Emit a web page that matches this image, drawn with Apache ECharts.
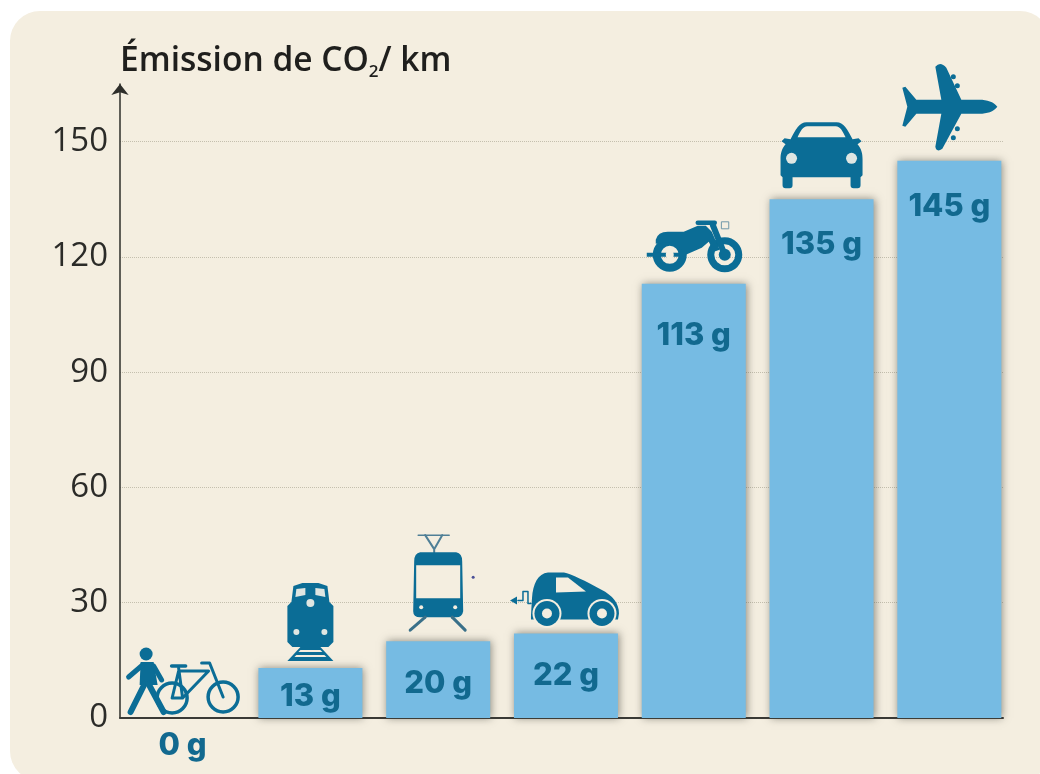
<!DOCTYPE html>
<html>
<head>
<meta charset="utf-8">
<title>Émission de CO2 / km</title>
<script src="https://cdn.jsdelivr.net/npm/echarts@6/dist/echarts.min.js"></script>
<style>
html, body { margin: 0; padding: 0; background: #fff; }
#chart { width: 1040px; height: 774px; }
</style>
</head>
<body>
<div id="chart"></div>
<script>
// modes de transport, de gauche a droite
var modes = ['velo', 'train', 'tram', 'voitureElec', 'moto', 'voiture', 'avion'];
var emissions = [0, 13, 20, 22, 113, 135, 145];
var yTicks = [0, 30, 60, 90, 120, 150];

var BLEU = '#0b6d96';
var FOND = '#f4eee0';
var BARRE = '#76bbe3';

// petits raccourcis pour les pictos (coordonnees relatives au haut de la barre)
function plein(d, c) { return { type: 'path', shape: { pathData: d }, style: { fill: c || BLEU } }; }
function trait(d, w, c) { return { type: 'path', shape: { pathData: d }, style: { fill: 'none', stroke: c || BLEU, lineWidth: w, lineCap: 'round', lineJoin: 'round' } }; }
function rond(x, y, r, c) { return { type: 'circle', shape: { cx: x, cy: y, r: r }, style: { fill: c || BLEU } }; }
function anneau(x, y, r, w) { return { type: 'circle', shape: { cx: x, cy: y, r: r }, style: { fill: 'none', stroke: BLEU, lineWidth: w } }; }

var pictos = {
	velo: [
		rond(-36.5, -64, 6.5),
		plein('M-42 -56 L-29 -56 L-25 -33 L-43 -33 Z'),
		trait('M-40 -53 L-54 -41', 5),
		trait('M-29 -52 L-21 -38', 5),
		trait('M-38 -34 L-52 -6', 6),
		trait('M-34 -34 L-19 -6', 6),
		anneau(-10.5, -20, 15, 3.5),
		anneau(40.5, -21, 15, 3.5),
		trait('M-4 -50 L0 -20 L26 -47 L-4 -47 L-10.5 -20 L0 -20', 3),
		trait('M19 -55 L27 -55 L40.5 -21', 3),
		trait('M-11 -52 L3 -52', 3.5)
	],
	train: [
		plein('M-17 -82 L-8 -85 L8 -85 L17 -82 L19 -66 L23 -62 L23 -26 L18 -21 L-18 -21 L-23 -26 L-23 -62 L-19 -66 Z'),
		plein('M-14 -79 L-5 -80 L-5 -73 L-15 -71 Z', '#dfe6e2'),
		plein('M14 -79 L5 -80 L5 -73 L15 -71 Z', '#dfe6e2'),
		rond(0, -65, 4, '#dfe6e2'),
		rond(-14, -36, 3, '#dfe6e2'),
		rond(14, -36, 3, '#dfe6e2'),
		plein('M-10 -21 L10 -21 L23 -7 L-23 -7 Z'),
		plein('M-10 -18 L10 -18 L12 -16 L-12 -16 Z', FOND),
		plein('M-14 -13 L14 -13 L16 -11 L-16 -11 Z', FOND)
	],
	tram: [
		trait('M-20 -106 L11 -106', 1.5, '#4f7f96'),
		trait('M-13 -106 L-4 -92 L4 -106 M-4 -92 L-4 -89', 2, '#4f7f96'),
		plein('M-18 -89 L18 -89 Q24 -88 24 -80 L25 -30 Q24 -24 18 -24 L-18 -24 Q-25 -24 -25 -30 L-24 -80 Q-24 -88 -18 -89 Z'),
		plein('M-22 -76 L22 -76 L22 -43 L-22 -43 Z', FOND),
		rond(-17, -34, 2, FOND),
		rond(17, -34, 2, FOND),
		trait('M-13 -24 L-28 -11', 3, '#3a7089'),
		trait('M14 -24 L27 -11', 3, '#3a7089'),
		rond(35, -64, 1.5, '#4a4f96')
	],
	voitureElec: [
		plein('M-35 -18 L-34 -35 C-33 -50 -28 -60 -18 -61 L-2 -61 C5 -60 20 -52 35 -44 C47 -38 53 -30 53 -20 L52 -14 L-35 -14 Z'),
		plein('M-10 -56 L2 -56 L20 -42 L-10 -41 Z', FOND),
		rond(-19, -20, 14.5, FOND),
		rond(-19, -20, 12.5),
		rond(-19, -20, 5, FOND),
		rond(36, -20, 14.5, FOND),
		rond(36, -20, 12.5),
		rond(36, -20, 5, FOND),
		trait('M-48 -33 L-43 -33 L-43 -42 L-38 -42 L-38 -30 L-35 -30', 1.5),
		plein('M-56 -33 L-49 -37 L-49 -29 Z')
	],
	moto: [
		anneau(-24, -29, 13, 8),
		plein('M-47 -31 L-14 -31 L-14 -27 L-47 -27 Z'),
		rond(-24, -29, 4, FOND),
		anneau(31, -29, 14, 7),
		rond(31, -29, 6),
		plein('M-38 -44 Q-36 -52 -26 -52 L-10 -52 L4 -58 L12 -58 L18 -52 L26 -34 L20 -32 L15 -42 L8 -36 L-8 -29 L-12 -34 L-20 -42 L-38 -40 Z'),
		trait('M4 -61 L21 -61', 4.5),
		trait('M19 -59 L31 -29', 6),
		trait('M28 -62 L35 -62 L35 -55 L28 -55 Z', 1, '#6f97a8')
	],
	voiture: [
		plein('M-15 -77 L15 -77 C22 -77 26 -70 31 -60 L37 -61 L40 -58 L36 -55 C40 -50 41 -46 41 -40 L41 -24 L39 -22 L39 -14 Q39 -11 36 -11 L32 -11 Q29 -11 29 -14 L29 -22 L-29 -22 L-29 -14 Q-29 -11 -32 -11 L-36 -11 Q-39 -11 -39 -14 L-39 -22 L-41 -24 L-41 -40 C-41 -46 -40 -50 -36 -55 L-40 -58 L-37 -61 L-31 -60 C-26 -70 -22 -77 -15 -77 Z'),
		plein('M-14 -73 L14 -73 C19 -73 21 -68 24 -62 L-24 -62 C-21 -68 -19 -73 -14 -73 Z', FOND),
		rond(-30, -41, 5.5, '#dfe6e2'),
		rond(30, -41, 5.5, '#dfe6e2')
	],
	avion: [
		plein('M48 -54 C44 -59 38 -61 30 -61 L12 -61 L-3 -93 Q-9 -100 -14 -94 L-8 -61 L-33 -61 L-44 -74 L-47 -73 L-42 -54 L-47 -35 L-44 -34 L-33 -47 L-8 -47 L-14 -14 Q-13 -8 -7 -12 L12 -47 L30 -47 C38 -47 44 -49 48 -54 Z'),
		rond(4, -84, 2.5),
		rond(8, -75, 2.5),
		rond(8, -32, 2.5),
		rond(4, -23, 2.5)
	]
};

// decalage du libelle sous le haut de la barre
var ecartLibelle = { 13: 13, 20: 27, 22: 27, 113: 36, 135: 30, 145: 30 };

var barres = [];
var icones = [];
for (var i = 0; i < modes.length; i++) {
	var item = { value: [i, emissions[i]] };
	if (emissions[i] === 0) {
		item.label = { position: 'bottom', distance: 12 };
	} else {
		item.label = { position: 'insideTop', distance: ecartLibelle[emissions[i]] };
	}
	barres.push(item);
	icones.push([i, emissions[i]]);
}

var chart = echarts.init(document.getElementById('chart'), null, { renderer: 'canvas' });
var option = {
	animation: false,
	backgroundColor: 'transparent',
	graphic: [{
		type: 'rect',
		z: -10,
		silent: true,
		shape: { x: 10, y: 11, width: 1040, height: 770, r: 30 },
		style: { fill: FOND }
	}],
	grid: { left: 120, top: 84, right: 37, bottom: 56, containLabel: false },
	xAxis: {
		type: 'value',
		min: -0.49,
		max: 6.42,
		splitLine: { show: false },
		axisTick: { show: false },
		axisLabel: { show: false },
		axisLine: { show: true, lineStyle: { color: '#3a3a36', width: 2 } }
	},
	yAxis: {
		type: 'value',
		min: 0,
		max: 165,
		interval: 30,
		name: '{a|Émission de CO}{b|2}{a|/ km}',
		nameLocation: 'end',
		nameGap: 3,
		nameTextStyle: {
			align: 'left',
			rich: {
				a: { fontFamily: 'Open Sans', fontSize: 33.5, fontWeight: 600, color: '#1f1f1d' },
				b: { fontFamily: 'Open Sans', fontSize: 17, fontWeight: 600, color: '#1f1f1d', padding: [22, 0, 0, 0] }
			}
		},
		axisTick: { show: false },
		axisLine: {
			show: true,
			onZero: false,
			symbol: ['none', 'arrow'],
			symbolSize: [13, 11],
			lineStyle: { color: '#2e2e2a', width: 1.5 }
		},
		axisLabel: {
			showMaxLabel: false,
			margin: 12,
			padding: [0, 0, 8, 0],
			fontFamily: 'Open Sans',
			fontSize: 33,
			color: '#2b2b28',
			formatter: function (v) { return yTicks.indexOf(v) >= 0 ? String(v) : ''; }
		},
		splitLine: {
			show: true,
			showMaxLine: false,
			lineStyle: { type: 'dotted', color: '#c4bfae', width: 1 }
		}
	},
	series: [{
		type: 'bar',
		barWidth: 104,
		data: barres,
		encode: { x: 0, y: 1 },
		itemStyle: {
			color: BARRE,
			shadowBlur: 8,
			shadowColor: 'rgba(70,70,60,0.6)',
			shadowOffsetX: 1,
			shadowOffsetY: 0
		},
		label: {
			show: true,
			position: 'insideTop',
			fontFamily: 'Inter',
			fontWeight: 800,
			fontSize: 31,
			color: '#12698f',
			formatter: function (p) { return p.value[1] + ' g'; }
		}
	}, {
		type: 'custom',
		silent: true,
		data: icones,
		encode: { x: 0, y: 1 },
		z: 5,
		clip: false,
		renderItem: function (params, api) {
			var pt = api.coord([api.value(0), api.value(1)]);
			return {
				type: 'group',
				x: pt[0],
				y: pt[1],
				children: pictos[modes[params.dataIndex]]
			};
		}
	}]
};
chart.setOption(option);
</script>
</body>
</html>
